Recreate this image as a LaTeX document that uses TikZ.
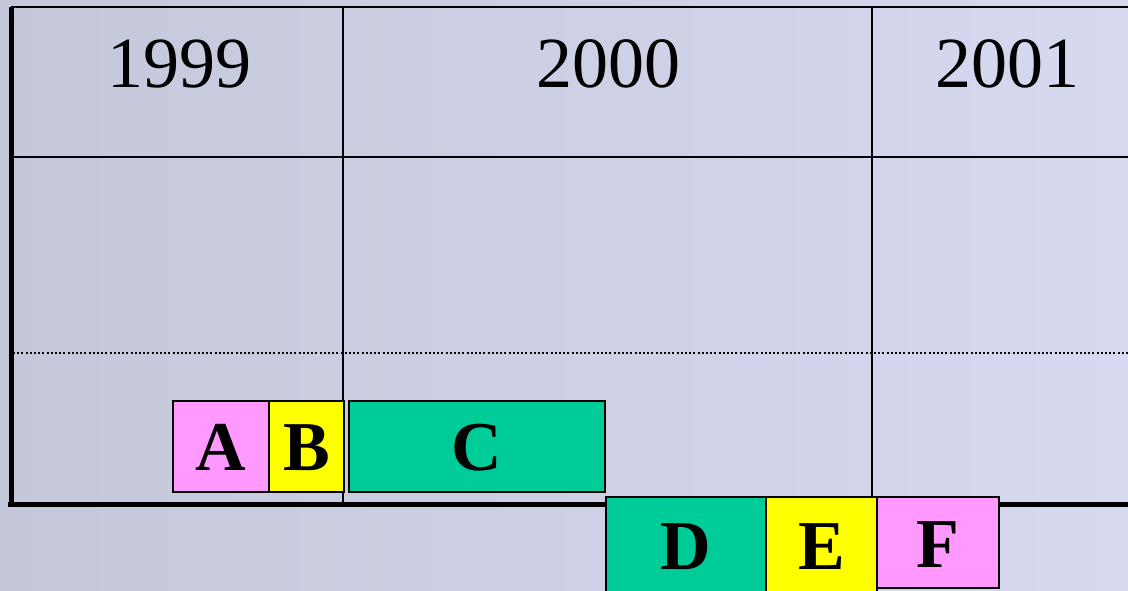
\documentclass[tikz,border=0pt]{standalone}
\usepackage{fontspec}
\setmainfont{Liberation Serif}
\definecolor{bgL}{RGB}{197,199,218}
\definecolor{bgR}{RGB}{214,217,240}
\definecolor{pinkbox}{RGB}{255,153,255}
\definecolor{yellowbox}{RGB}{255,255,0}
\definecolor{greenbox}{RGB}{0,204,153}
\begin{document}
\begin{tikzpicture}[x=1pt,y=-1pt,
  thinline/.style={line width=2.3pt,black},
  thickline/.style={line width=5pt,black},
  dotline/.style={line width=2pt,black,dash pattern=on 2pt off 2.2pt},
  year/.style={font=\fontsize{72}{72}\selectfont,inner sep=0pt,anchor=center},
  letter/.style={font=\fontsize{70}{70}\selectfont\bfseries},
  taskbox/.style={draw=black,line width=2.2pt,inner sep=0pt,anchor=north west}]
\shade[left color=bgL,right color=bgR] (0,0) rectangle (1128,590);
\useasboundingbox (0,0) rectangle (1128,590);
% grid coordinates
\coordinate (tl) at (11,7);
\coordinate (tr) at (1128,7);
\coordinate (hl) at (11,157);
\coordinate (hr) at (1128,157);
\coordinate (dl) at (13,353);
\coordinate (dr) at (1128,353);
\coordinate (bl) at (8,504);
\coordinate (br) at (1128,504);
\coordinate (bot) at (11,506);
\coordinate (v1t) at (343,7);
\coordinate (v1b) at (343,507);
\coordinate (v2t) at (872,7);
\coordinate (v2b) at (872,497);
\draw[thinline] (tl) -- (tr);
\draw[thinline] (hl) -- (hr);
\draw[dotline] (dl) -- (dr);
\draw[thinline] (v1t) -- (v1b);
\draw[thinline] (v2t) -- (v2b);
\draw[thickline] (bl) -- (br);
\draw[thickline] (tl) -- (bot);
% years
\node[year] (y1999) at (179,64) {1999};
\node[year] (y2000) at (608,64) {2000};
\node[year] (y2001) at (1007,64) {2001};
% task boxes
\node[taskbox,fill=pinkbox,minimum width=96pt,minimum height=91pt] (A) at (172,400) {};
\node[letter,yshift=-1pt] (tA) at (A.center) {A};
\node[taskbox,fill=yellowbox,minimum width=75pt,minimum height=91pt] (B) at (268,400) {};
\node[letter,yshift=-1pt] (tB) at (B.center) {B};
\node[taskbox,fill=greenbox,minimum width=256pt,minimum height=91pt] (C) at (348,400) {};
\node[letter,yshift=-1pt] (tC) at (C.center) {C};
\node[taskbox,fill=greenbox,minimum width=160pt,minimum height=100pt] (D) at (605,496) {};
\node[letter,anchor=center,yshift=-51pt] (tD) at (D.north) {D};
\node[taskbox,fill=yellowbox,minimum width=111pt,minimum height=100pt] (E) at (765,496) {};
\node[letter,anchor=center,yshift=-51pt] (tE) at (E.north) {E};
\node[taskbox,fill=pinkbox,minimum width=122pt,minimum height=91pt] (F) at (876,496) {};
\node[letter,yshift=-2pt] (tF) at (F.center) {F};
\end{tikzpicture}
\end{document}
